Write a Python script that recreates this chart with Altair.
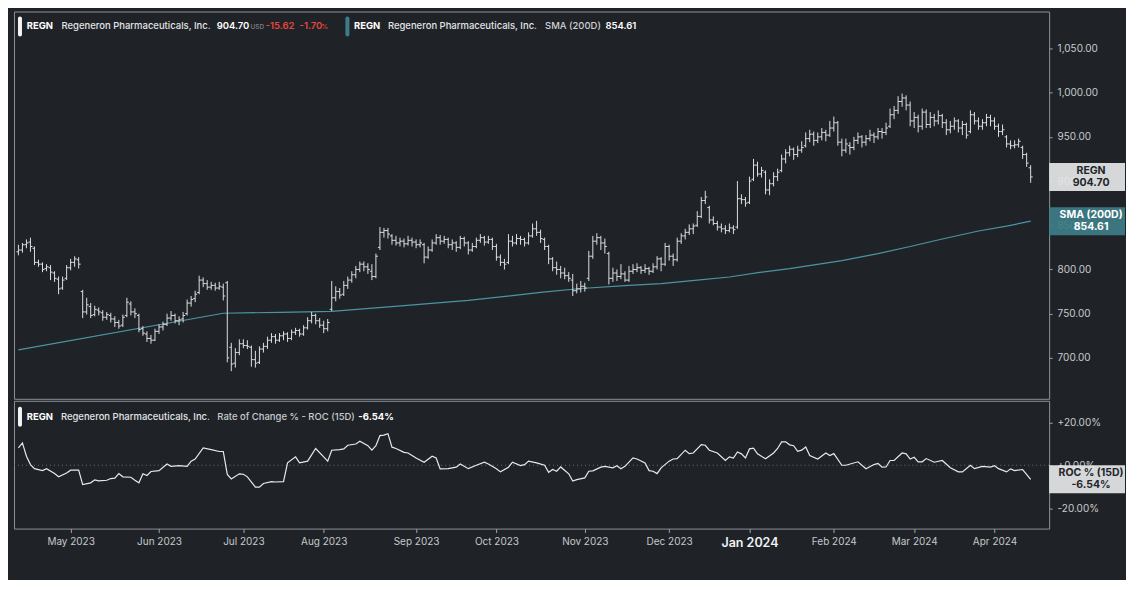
import altair as alt
import numpy as np
import pandas as pd

# ---------------- data ----------------
holidays = ["2023-05-29", "2023-06-19", "2023-07-04", "2023-09-04", "2023-11-23",
            "2023-12-25", "2024-01-01", "2024-01-15", "2024-02-19", "2024-03-29"]

opens = [
    820, 822, 828, 831, 824, 808, 806, 801, 802, 796,
    789, 779, 790, 802, 808, 811, 775, 752, 758, 749,
    754, 751, 746, 748, 744, 740, 737, 748, 761, 752,
    748, 733, 727, 722, 720, 730, 735, 738, 745, 748,
    742, 744, 750, 762, 767, 774, 788, 784, 780, 782,
    779, 780, 785, 712, 694, 706, 716, 714, 712, 698,
    695, 710, 713, 720, 724, 720, 725, 727, 722, 729,
    731, 727, 734, 742, 748, 742, 737, 733, 755, 768,
    775, 772, 782, 788, 794, 800, 806, 803, 798, 792,
    825, 842, 844, 838, 833, 830, 832, 829, 833, 831,
    828, 828, 814, 822, 830, 836, 832, 834, 828, 830,
    825, 835, 830, 822, 826, 833, 836, 831, 834, 826,
    814, 808, 808, 832, 830, 835, 834, 830, 838, 846,
    842, 834, 826, 812, 802, 800, 796, 793, 788, 776,
    778, 781, 790, 815, 832, 836, 830, 818, 790, 796,
    792, 795, 788, 798, 800, 802, 799, 801, 798, 803,
    812, 806, 826, 815, 811, 832, 838, 842, 846, 850,
    860, 878, 870, 856, 852, 848, 846, 844, 847, 848,
    880, 879, 876, 902, 918, 908, 910, 890, 897, 905,
    912, 925, 932, 936, 930, 935, 940, 948, 953, 946,
    950, 955, 952, 960, 966, 944, 935, 940, 938, 946,
    950, 944, 948, 952, 950, 956, 955, 962, 975, 980,
    990, 994, 986, 968, 972, 962, 978, 964, 972, 968,
    974, 966, 958, 962, 968, 960, 964, 956, 975, 968,
    962, 966, 972, 968, 962, 956, 950, 942, 940, 941,
    938, 930, 915]

highs = [
    828, 830, 834, 836, 826, 811, 808, 806, 805, 798,
    792, 792, 805, 812, 815, 814, 777, 768, 762, 759,
    757, 754, 752, 751, 747, 743, 749, 768, 764, 756,
    750, 736, 730, 726, 733, 738, 741, 750, 753, 750,
    747, 752, 766, 770, 776, 793, 791, 788, 786, 785,
    786, 784, 787, 717, 711, 721, 721, 720, 714, 708,
    713, 717, 724, 728, 727, 728, 730, 729, 732, 734,
    733, 737, 746, 752, 750, 745, 742, 744, 787, 781,
    779, 787, 792, 798, 804, 809, 809, 807, 806, 818,
    848, 847, 847, 840, 838, 836, 835, 838, 836, 834,
    834, 830, 826, 834, 840, 839, 838, 836, 834, 832,
    838, 837, 832, 830, 836, 840, 838, 838, 836, 829,
    817, 812, 840, 838, 840, 838, 836, 842, 852, 855,
    845, 836, 828, 814, 809, 804, 802, 797, 795, 784,
    787, 785, 821, 838, 841, 838, 835, 820, 802, 800,
    806, 798, 804, 806, 807, 804, 806, 803, 807, 815,
    814, 830, 828, 818, 836, 841, 846, 851, 852, 866,
    882, 889, 872, 860, 855, 852, 850, 852, 850, 900,
    885, 882, 905, 925, 922, 916, 912, 902, 910, 914,
    930, 936, 940, 938, 940, 945, 955, 958, 956, 955,
    960, 958, 968, 973, 968, 948, 948, 944, 950, 955,
    952, 952, 958, 955, 960, 960, 966, 982, 985, 996,
    999, 997, 990, 978, 975, 982, 981, 978, 976, 980,
    976, 970, 968, 972, 970, 968, 966, 980, 978, 972,
    970, 976, 975, 972, 965, 964, 952, 946, 946, 948,
    940, 932, 918]

lows = [
    816, 819, 824, 820, 805, 803, 797, 798, 788, 786,
    772, 777, 788, 799, 803, 801, 745, 749, 745, 747,
    748, 742, 743, 740, 735, 733, 735, 746, 748, 745,
    729, 725, 718, 716, 719, 727, 731, 736, 742, 739,
    737, 740, 748, 758, 763, 772, 780, 777, 777, 776,
    777, 765, 695, 685, 689, 703, 711, 710, 690, 689,
    693, 706, 710, 717, 716, 718, 720, 718, 720, 726,
    724, 725, 732, 739, 738, 734, 728, 730, 753, 764,
    767, 770, 778, 785, 790, 797, 798, 795, 788, 790,
    822, 836, 835, 828, 827, 826, 825, 827, 826, 824,
    825, 807, 812, 820, 828, 828, 829, 824, 822, 820,
    823, 826, 817, 820, 824, 830, 827, 829, 822, 810,
    804, 800, 806, 826, 828, 828, 826, 828, 836, 838,
    830, 822, 806, 798, 794, 790, 789, 786, 770, 773,
    774, 775, 787, 812, 828, 822, 818, 783, 786, 787,
    789, 786, 786, 795, 797, 795, 796, 794, 796, 800,
    798, 804, 810, 804, 809, 829, 834, 839, 840, 848,
    858, 874, 852, 850, 844, 842, 840, 842, 840, 846,
    874, 871, 874, 900, 905, 904, 885, 884, 894, 900,
    910, 920, 928, 924, 927, 932, 938, 944, 940, 943,
    946, 945, 950, 956, 940, 928, 932, 930, 935, 942,
    938, 940, 945, 943, 947, 948, 952, 960, 970, 976,
    984, 980, 962, 960, 955, 958, 960, 960, 962, 964,
    960, 952, 954, 958, 955, 952, 948, 954, 964, 958,
    958, 962, 962, 958, 950, 952, 938, 936, 937, 938,
    925, 916, 898]

closes = [
    822, 828, 830, 826, 808, 806, 800, 803, 797, 790,
    778, 788, 802, 808, 812, 806, 752, 760, 748, 755,
    752, 746, 749, 744, 740, 736, 746, 763, 752, 750,
    732, 728, 722, 720, 730, 735, 738, 745, 748, 742,
    743, 748, 762, 766, 772, 788, 784, 780, 782, 779,
    781, 770, 700, 693, 706, 716, 714, 713, 698, 694,
    710, 713, 720, 724, 720, 725, 727, 722, 729, 731,
    727, 734, 742, 748, 742, 737, 733, 740, 768, 775,
    771, 782, 788, 794, 800, 806, 803, 800, 792, 815,
    842, 844, 840, 833, 830, 832, 829, 833, 831, 828,
    830, 814, 822, 830, 836, 832, 834, 828, 830, 825,
    835, 830, 822, 826, 833, 836, 831, 834, 826, 814,
    808, 806, 832, 830, 835, 834, 830, 838, 846, 842,
    835, 826, 812, 802, 800, 796, 793, 790, 776, 778,
    781, 779, 815, 832, 836, 830, 826, 790, 796, 792,
    795, 788, 798, 800, 802, 799, 801, 798, 803, 812,
    806, 826, 815, 811, 832, 838, 842, 846, 849, 860,
    878, 882, 856, 852, 848, 846, 844, 847, 845, 880,
    879, 875, 900, 918, 908, 912, 890, 897, 905, 910,
    925, 932, 936, 930, 935, 938, 948, 953, 946, 950,
    955, 952, 960, 966, 944, 935, 942, 938, 946, 950,
    944, 948, 952, 950, 956, 955, 960, 975, 980, 990,
    994, 986, 968, 972, 962, 978, 964, 972, 968, 974,
    966, 958, 962, 968, 960, 964, 952, 975, 968, 962,
    966, 972, 968, 962, 956, 958, 942, 940, 941, 945,
    930, 920.32, 904.70]

sma_idx = [0, 51, 65, 78, 96, 112, 130, 140, 152, 160, 169, 177, 185, 192,
           205, 214, 222, 230, 239, 246, 252]
sma_val = [709, 750.5, 751.5, 752.5, 759, 765, 774, 778.5, 782, 784, 788, 791.5,
           797, 801, 810, 818, 826, 834.5, 843.5, 849, 854.61]

roc_idx = [0, 1, 2, 3, 4, 6, 7, 9, 10, 12,
           13, 15, 16, 18, 19, 20, 22, 23, 24, 25,
           26, 28, 29, 30, 31, 32, 33, 35, 37, 38,
           40, 42, 43, 44, 46, 48, 50, 51, 52, 53,
           55, 56, 57, 59, 60, 61, 63, 64, 66, 67,
           69, 70, 72, 74, 76, 77, 78, 80, 81, 82,
           84, 85, 87, 88, 89, 90, 91, 92, 93, 94,
           96, 97, 99, 101, 103, 104, 105, 107, 109, 110,
           112, 114, 116, 117, 119, 120, 122, 123, 125, 126,
           127, 129, 131, 132, 133, 134, 135, 137, 138, 139,
           141, 142, 143, 145, 146, 148, 149, 150, 151, 153,
           154, 156, 157, 158, 159, 160, 162, 163, 164, 166,
           167, 168, 170, 171, 172, 174, 176, 177, 178, 179,
           180, 181, 182, 183, 184, 186, 188, 189, 190, 191,
           192, 193, 194, 195, 196, 197, 199, 201, 202, 203,
           205, 206, 209, 211, 213, 214, 215, 216, 217, 218,
           220, 221, 222, 223, 224, 225, 226, 228, 230, 232,
           234, 235, 237, 238, 240, 242, 243, 244, 246, 247,
           248, 250, 252]
roc_val = [8.1, 10.4, 4.2, 0.3, -1.6, -2.5, -1.6, -3.9, -5.4, -3.6,
           -2.3, -2.3, -9.0, -8.2, -6.8, -7.3, -7.0, -6.2, -6.0, -3.9,
           -5.4, -5.6, -7.0, -8.2, -4.0, -4.8, -2.9, -2.5, 0.6, -0.5,
           -0.2, -0.5, 1.9, 2.9, 8.1, 7.3, 6.4, 6.4, -4.3, -6.4,
           -4.0, -4.2, -5.4, -10.2, -10.2, -8.5, -7.6, -7.8, -7.6, 1.1,
           3.9, 1.1, 1.9, 7.8, 3.9, 1.9, 7.0, 7.3, 7.6, 9.3,
           9.9, 11.2, 9.1, 7.0, 9.1, 13.8, 14.0, 14.7, 8.4, 7.8,
           6.0, 5.7, 3.4, 1.4, 4.2, 3.4, -1.7, -1.6, -0.9, 0.6,
           -1.6, 0.0, 1.4, 0.6, -1.6, -3.1, -0.9, 1.4, -0.2, 0.3,
           1.9, 1.1, 0.0, -3.3, -2.0, -2.8, -0.8, -4.0, -7.4, -6.7,
           -5.9, -2.8, -2.6, -0.9, -0.5, -1.2, -0.2, -1.6, -0.5, 3.4,
           2.9, 1.1, -2.5, -2.8, -3.9, -1.2, 1.9, 2.9, 3.1, 7.0,
           5.4, 5.7, 9.6, 9.3, 7.0, 5.7, 2.2, 3.9, 3.3, 6.2,
           5.3, 3.4, 7.6, 7.9, 5.3, 3.0, 5.7, 7.8, 10.9, 10.9,
           9.5, 9.1, 6.5, 7.0, 8.5, 4.5, 2.9, 5.7, 4.5, 5.4,
           0.0, 0.0, 1.6, -1.6, 0.3, 0.8, -0.9, -0.8, 2.2, 2.2,
           5.7, 5.3, 2.9, 3.7, 1.6, 1.6, 3.1, 1.4, 2.2, -1.2,
           -3.1, -3.1, 0.0, -1.6, -0.5, -0.9, -0.2, -1.6, -3.1, -1.7,
           -2.5, -2.0, -6.54]

month_labels = ["May 2023", "Jun 2023", "Jul 2023", "Aug 2023", "Sep 2023", "Oct 2023",
                "Nov 2023", "Dec 2023", "Jan 2024", "Feb 2024", "Mar 2024", "Apr 2024"]
price_ticks = [700, 750, 800, 850, 900, 950, 1000, 1050]
roc_ticks = [-20, 0, 20]

ticker = "REGN"
company = "Regeneron Pharmaceuticals, Inc."

# ---------------- tables ----------------
n = len(closes)
dates = pd.bdate_range("2023-04-12", "2024-04-12", freq="C", holidays=holidays)[:n]
df = pd.DataFrame({"i": list(range(n)), "date": dates.strftime("%Y-%m-%d"),
                   "open": opens, "high": highs, "low": lows, "close": closes})
mon = np.array(dates.strftime("%b %Y"))
month_start_idx = [int(np.argmax(mon == m)) for m in month_labels]
jan_idx = month_start_idx[month_labels.index("Jan 2024")]

sma_df = pd.DataFrame({"i": sma_idx, "sma": sma_val})
roc_df = pd.DataFrame({"i": roc_idx, "roc": roc_val})

last_close = closes[-1]
chg = last_close - closes[-2]
pct = chg / closes[-2] * 100
last_sma = sma_val[-1]
last_roc = roc_val[-1]

price_last_df = pd.DataFrame({"v": [last_close]})
sma_last_df = pd.DataFrame({"v": [last_sma]})
roc_last_df = pd.DataFrame({"v": [last_roc]})
one = pd.DataFrame({"k": [0]})

# ---------------- style ----------------
BG = "#1f2327"
FRAME = "#8e9195"
BAR = "#dcdee0"
TEAL_LINE = "#4b95a2"
TEAL_BOX = "#3d7d88"
RED = "#e5463d"
W = 1037
H_PRICE = 388
H_ROC = 128
FONT = "Inter"

x_scale = alt.Scale(domain=[-1.1, 256.6], nice=False, zero=False)
price_scale = alt.Scale(domain=[653.7, 1091.8], nice=False, zero=False)
roc_scale = alt.Scale(domain=[-29.5, 30.0], nice=False, zero=False)

price_axis = alt.Axis(orient="right", values=price_ticks, format=",.2f", title=None,
                      grid=False, domain=False, tickSize=3, tickColor="#a0a3a6",
                      labelColor="#c9cbce", labelFontSize=10, labelPadding=5,
                      labelFont=FONT)
roc_axis = alt.Axis(orient="right", values=roc_ticks, title=None, grid=False, domain=False,
                    tickSize=3, tickColor="#a0a3a6", labelColor="#c9cbce",
                    labelFontSize=10, labelPadding=5, labelFont=FONT,
                    labelExpr="(datum.value >= 0 ? '+' : '-') + format(abs(datum.value), '.2f') + '%'")
lbl_arr = "[" + ",".join("'%s'" % m for m in month_labels) + "]"
idx_arr = "[" + ",".join(str(v) for v in month_start_idx) + "]"
jan_test = "datum.value == %d" % jan_idx
x_axis = alt.Axis(values=month_start_idx, title=None, grid=False, domain=False,
                  tickSize=4, tickColor="#a0a3a6", labelPadding=4, labelFont=FONT,
                  labelExpr=lbl_arr + "[indexof(" + idx_arr + ", datum.value)]",
                  labelFontSize={"condition": {"test": jan_test, "value": 12.5}, "value": 10},
                  labelFontWeight={"condition": {"test": jan_test, "value": 600}, "value": 400},
                  labelColor={"condition": {"test": jan_test, "value": "#f2f3f4"}, "value": "#c6c8cb"})

X_none = alt.X("i:Q", scale=x_scale, axis=None)
X_ax = alt.X("i:Q", scale=x_scale, axis=x_axis)


def label(text, x, y, color, size=9.5, weight=500):
    return alt.Chart(one).mark_text(align="left", baseline="middle", font=FONT,
                                    fontSize=size, fontWeight=weight, color=color).encode(
        x=alt.value(x), y=alt.value(y), text=alt.value(text))


def pill(x, y, color, w=4, h=20):
    return alt.Chart(one).mark_rect(color=color, cornerRadius=2).encode(
        x=alt.value(x), x2=alt.value(x + w), y=alt.value(y), y2=alt.value(y + h))


def value_box(data, scale, axis, fill, txt_color, text):
    rect = alt.Chart(data).mark_rect(color=fill, opacity=0.93, yOffset=-14, y2Offset=14).encode(
        x=alt.value(W), x2=alt.value(W + 76),
        y=alt.Y("v:Q", scale=scale, axis=axis), y2="v:Q")
    txt = alt.Chart(data).mark_text(lineBreak="\n", lineHeight=12, align="center",
                                    baseline="middle", dy=-6, font=FONT, fontSize=10.5,
                                    fontWeight=700, color=txt_color).encode(
        x=alt.value(W + 42), y=alt.Y("v:Q", scale=scale, axis=axis), text=alt.value(text))
    return [rect, txt]


# ---------------- price panel ----------------
base = alt.Chart(df)
sma_line = alt.Chart(sma_df).mark_line(color=TEAL_LINE, strokeWidth=1.2).encode(
    x=X_none, y=alt.Y("sma:Q", scale=price_scale, axis=price_axis))
hl = base.mark_rule(color=BAR, strokeWidth=1).encode(
    x=X_none, y=alt.Y("low:Q", scale=price_scale, axis=price_axis), y2="high:Q")
op = base.mark_rule(color=BAR, strokeWidth=1, xOffset=-2, x2Offset=0).encode(
    x=X_none, x2="i:Q", y=alt.Y("open:Q", scale=price_scale, axis=price_axis))
cl = base.mark_rule(color=BAR, strokeWidth=1, xOffset=0, x2Offset=2).encode(
    x=X_none, x2="i:Q", y=alt.Y("close:Q", scale=price_scale, axis=price_axis))

hy = 15
price_header = [
    pill(4, 5, "#f4f4f4"),
    label(ticker, 12.8, hy, "#ffffff", weight=700),
    label(company, 47.6, hy, "#e2e4e6"),
    label(f"{last_close:.2f}", 203, hy, "#ffffff", weight=600),
    label("USD", 237, hy + 0.5, "#80848a", size=6.5),
    label(f"{chg:.2f}", 252, hy, RED, weight=600),
    label(f"{pct:.2f}", 286, hy, RED, weight=600),
    label("%", 308, hy + 0.5, RED, size=6.5, weight=600),
    pill(332, 5, TEAL_BOX),
    label(ticker, 340.6, hy, "#ffffff", weight=700),
    label(company, 374.6, hy, "#e2e4e6"),
    label("SMA (200D)", 532, hy, "#cfd1d4"),
    label(f"{last_sma:.2f}", 592.6, hy, "#ffffff", weight=600),
]
price_boxes = (value_box(price_last_df, price_scale, price_axis, "#e4e5e6", "#22252a",
                         f"{ticker}\n{last_close:.2f}")
               + value_box(sma_last_df, price_scale, price_axis, TEAL_BOX, "#ffffff",
                           f"SMA (200D)\n{last_sma:.2f}"))

price_panel = alt.layer(sma_line, hl, op, cl, *price_header, *price_boxes).properties(
    width=W, height=H_PRICE)

# ---------------- ROC panel ----------------
zero = alt.Chart(one).mark_rule(color="#6b6e72", strokeDash=[1, 3], strokeWidth=1).encode(
    y=alt.Y(datum=0, scale=roc_scale, axis=roc_axis))
roc_line = alt.Chart(roc_df).mark_line(color="#e8e9ea", strokeWidth=1.2).encode(
    x=X_ax, y=alt.Y("roc:Q", scale=roc_scale, axis=roc_axis))
ry = 16
roc_header = [
    pill(4, 6, "#f4f4f4"),
    label(ticker, 12.7, ry, "#ffffff", weight=700),
    label(company, 47, ry, "#e2e4e6"),
    label("Rate of Change % - ROC (15D)", 203.7, ry, "#c9cbce"),
    label(f"{last_roc:.2f}%", 345, ry, "#ffffff", weight=700),
]
roc_boxes = value_box(roc_last_df, roc_scale, roc_axis, "#e4e5e6", "#22252a",
                      f"ROC % (15D)\n{last_roc:.2f}%")
roc_panel = alt.layer(zero, roc_line, *roc_header, *roc_boxes).properties(
    width=W, height=H_ROC)

chart = alt.vconcat(price_panel, roc_panel, spacing=0).properties(
    padding={"left": 5, "top": 2, "right": 0, "bottom": 30},
    background=BG,
).configure(font=FONT).configure_view(stroke=FRAME, strokeWidth=1)

chart.save("out.html", embed_options={"renderer": "svg", "actions": False})
